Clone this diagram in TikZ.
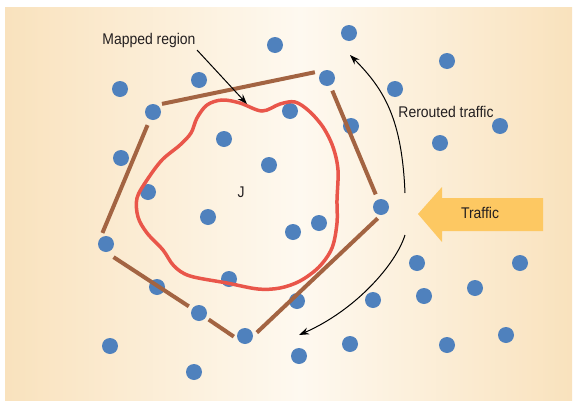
\documentclass[tikz,border=0pt]{standalone}
\usepackage{fontspec}
\setmainfont{Liberation Sans}[FakeStretch=0.9]
\usetikzlibrary{arrows.meta}
\definecolor{dotblue}{RGB}{79,129,189}
\definecolor{edgebrown}{RGB}{163,100,66}
\definecolor{regionred}{RGB}{233,86,74}
\definecolor{bgedge}{RGB}{249,226,189}
\definecolor{bgmid}{RGB}{254,249,240}
\definecolor{arrowyellow}{RGB}{253,200,98}
\definecolor{txt}{RGB}{35,31,32}
\begin{document}
\begin{tikzpicture}[x=1pt,y=-1pt,
  dot/.style={circle,fill=dotblue,minimum size=16pt,inner sep=0pt},
  hull/.style={draw=edgebrown,line width=4pt},
  region/.style={draw=regionred,line width=3.5pt},
  lbl/.style={text=txt,font=\fontsize{15.5}{18}\selectfont,inner sep=2pt},
  arr/.style={draw=black,line width=1pt,-{Stealth[length=10pt,width=7pt]}}]
\useasboundingbox (0,0) rectangle (574,402);
\shade[left color=bgedge,right color=bgmid] (5,7) rectangle (300,400);
\shade[left color=bgmid,right color=bgedge] (299.5,7) rectangle (572,400);
% dots
\foreach \n/\x/\y in {1/120/89,2/199/80,3/275/45,4/349/33,5/327/78,6/153/112,7/290/111,
  8/224/139,9/351/126,10/121/158,11/269/165,12/148/192,13/395/89,14/447/61,15/500/126,
  16/440/143,17/381/207,18/208/217,19/293/232,20/319/223,21/106/244,22/157/287,23/229/279,
  24/199/313,25/245/336,26/297/301,27/110/346,28/194/372,29/299/356,30/350/344,31/373/300,
  32/417/263,33/424/296,34/475/288,35/520/263,36/447/345,37/506/335}
  \node[dot] (d\n) at (\x,\y) {};
% hull edges
\draw[hull,shorten <=5pt,shorten >=9.5pt] (d6.60) -- (d5.110);
\draw[hull,shorten <=5.5pt,shorten >=5.5pt] (d5) -- (d17);
\draw[hull,shorten <=4.5pt,shorten >=5pt] (d17.south) -- (d25.east);
\draw[hull,shorten <=12pt,shorten >=6pt] (d21.west) -- (d6);
\draw[hull,shorten <=9pt,shorten >=4pt] (d21.south) -- (d24);
\draw[hull,shorten <=3.5pt,shorten >=13.5pt] (d24) -- (d25.south);
% mapped region
\draw[region] plot[smooth cycle, tension=0.55] coordinates {
  (207,105) (222,100) (240,103) (262,111) (280,104) (295,102) (309,111) (323,127)
  (333,147) (338,170) (337,200) (337,223) (332,248) (319,267) (300,281) (280,288)
  (258,289) (227,283) (190,276) (174,266) (163,250) (147,233) (138,217) (137,198)
  (147,180) (162,160) (180,145) (191,133) (197,118)};
% labels
\node[lbl] (mapped) at (149,40) {Mapped region};
\coordinate (mtip) at (247,104);
\draw[arr] (197,50) -- (mtip);
\node[lbl] (rerouted) at (446,112) {Rerouted traffic};
\node[lbl] (J) at (241,192) {J};
% traffic arrow
\fill[arrowyellow] (418,214) -- (442,187) -- (442,198) -- (543,198) -- (543,231)
  -- (442,231) -- (442,242) -- cycle;
\node[lbl] (traffic) at (480,213) {Traffic};
% rerouted arrows
\coordinate (r1) at (405,193);
\coordinate (r2) at (350,55);
\coordinate (r3) at (405,235);
\coordinate (r4) at (299,335);
\draw[arr] (r1) .. controls (402,120) and (385,90) .. (r2);
\draw[arr] (r3) .. controls (396,264) and (356,310) .. (r4);
\end{tikzpicture}
\end{document}
